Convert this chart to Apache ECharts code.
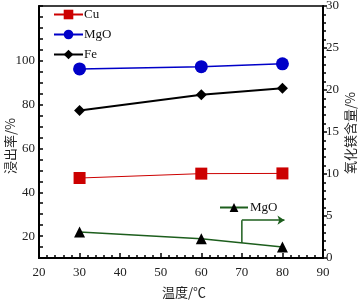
<!DOCTYPE html>
<html>
<head>
<meta charset="utf-8">
<script src="https://cdn.jsdelivr.net/npm/echarts@6/dist/echarts.min.js"></script>
<style>
  html, body { margin: 0; padding: 0; background: #fff; }
  #main { width: 362px; height: 301px; }
</style>
</head>
<body>
<div id="main"></div>
<script>
var temps = [30, 60, 80];
var cuRate = [46.5, 48.5, 48.6];
var mgoRate = [96.3, 97.3, 98.6];
var feRate = [77.3, 84.5, 87.5];
var mgoContent = [3.1, 2.3, 1.3];
// arrow pointing from the MgO content line to the right axis
var arrowPath = [[70, 1.8], [70, 4.5], [80.5, 4.5]];
var xTitle = '温度/℃';
var leftTitle = '浸出率/%';
var rightTitle = '氧化镁含量/%';

function pairs(xs, ys) {
  return xs.map(function (x, i) { return [x, ys[i]]; });
}

var chartDom = document.getElementById('main');
var myChart = echarts.init(chartDom);
var serif = '"Liberation Serif", "Times New Roman", serif';
var cjk = '"Noto Sans CJK SC", sans-serif';

function axisTitle(text, x, y, rot) {
  return {
    type: 'text', x: x, y: y, rotation: rot,
    style: {
      text: text, fill: '#222', font: '13px ' + cjk,
      align: 'center', verticalAlign: 'middle'
    }
  };
}

var option = {
  animation: false,
  grid: {
    left: 39, right: 39, top: 6, bottom: 43,
    outerBoundsMode: 'none',
    containLabel: false,
    show: true, borderColor: '#000', borderWidth: 1.5
  },
  graphic: [
    axisTitle(xTitle, 184, 292, 0),
    axisTitle(leftTitle, 10, 146, Math.PI / 2),
    axisTitle(rightTitle, 350, 133, Math.PI / 2)
  ],
  legend: [
    {
      data: ['Cu', 'MgO', 'Fe'],
      orient: 'vertical',
      left: 48, top: 3,
      itemWidth: 29, itemHeight: 12, itemGap: 7,
      textStyle: { fontFamily: serif, fontSize: 13, color: '#111', padding: [0, 0, 0, -4] }
    },
    {
      data: ['MgO2'],
      left: 214, top: 196,
      itemWidth: 28, itemHeight: 11,
      formatter: function () { return 'MgO'; },
      textStyle: { fontFamily: serif, fontSize: 13, color: '#111', padding: [0, 0, 0, -3] }
    }
  ],
  xAxis: {
    type: 'value',
    min: 20, max: 90, interval: 10,
    axisLine: { lineStyle: { color: '#000', width: 2 } },
    axisTick: { inside: true, length: 5, lineStyle: { color: '#000', width: 1.5 } },
    minorTick: { show: true, splitNumber: 5, length: 3, lineStyle: { color: '#000', width: 1.5 } },
    axisLabel: { fontFamily: serif, fontSize: 13, color: '#222', margin: 8 },
    splitLine: { show: false }
  },
  yAxis: [
    {
      type: 'value',
      min: 10, max: 125, interval: 5,
      axisLine: { show: true, lineStyle: { color: '#000', width: 2 } },
      axisTick: { show: true, inside: true, length: 4, lineStyle: { color: '#000', width: 1.5 } },
      axisLabel: {
        fontFamily: serif, fontSize: 13, color: '#222', margin: 4,
        formatter: function (v) { return (v % 20 === 0 && v <= 100) ? v : ''; }
      },
      splitLine: { show: false }
    },
    {
      type: 'value',
      min: 0, max: 30, interval: 5,
      position: 'right',
      axisLine: { show: true, lineStyle: { color: '#000', width: 2 } },
      axisTick: { show: true, length: 4, lineStyle: { color: '#000', width: 1.5 } },
      minorTick: { show: true, splitNumber: 5, length: 3, lineStyle: { color: '#000', width: 1.5 } },
      axisLabel: { fontFamily: serif, fontSize: 13, color: '#222', margin: 3 },
      splitLine: { show: false }
    }
  ],
  series: [
    {
      name: 'Cu', type: 'line', yAxisIndex: 0,
      data: pairs(temps, cuRate),
      symbol: 'rect', symbolSize: 12,
      itemStyle: { color: '#cc0000' },
      lineStyle: { color: '#cc0000', width: 1 }
    },
    {
      name: 'MgO', type: 'line', yAxisIndex: 0,
      data: pairs(temps, mgoRate),
      symbol: 'circle', symbolSize: 13,
      itemStyle: { color: '#0000c8' },
      lineStyle: { color: '#0000c8', width: 1.5 }
    },
    {
      name: 'Fe', type: 'line', yAxisIndex: 0,
      data: pairs(temps, feRate),
      symbol: 'diamond', symbolSize: 11,
      itemStyle: { color: '#000' },
      lineStyle: { color: '#000', width: 2 }
    },
    {
      name: 'MgO2', type: 'line', yAxisIndex: 1,
      data: pairs(temps, mgoContent),
      symbol: 'triangle', symbolSize: 11,
      itemStyle: { color: '#000' },
      lineStyle: { color: '#1d5e1d', width: 1.5 },
      z: 3
    },
    {
      name: 'arrow', type: 'line', yAxisIndex: 1,
      data: arrowPath.slice(0, 2),
      symbol: 'none',
      lineStyle: { color: '#1d5e1d', width: 1.5 },
      markLine: {
        silent: true,
        symbol: ['none', 'arrow'],
        symbolSize: 7,
        label: { show: false },
        lineStyle: { color: '#1d5e1d', width: 1.5, type: 'solid' },
        data: [[{ coord: arrowPath[1] }, { coord: arrowPath[2] }]]
      }
    }
  ]
};
myChart.setOption(option);
</script>
</body>
</html>
